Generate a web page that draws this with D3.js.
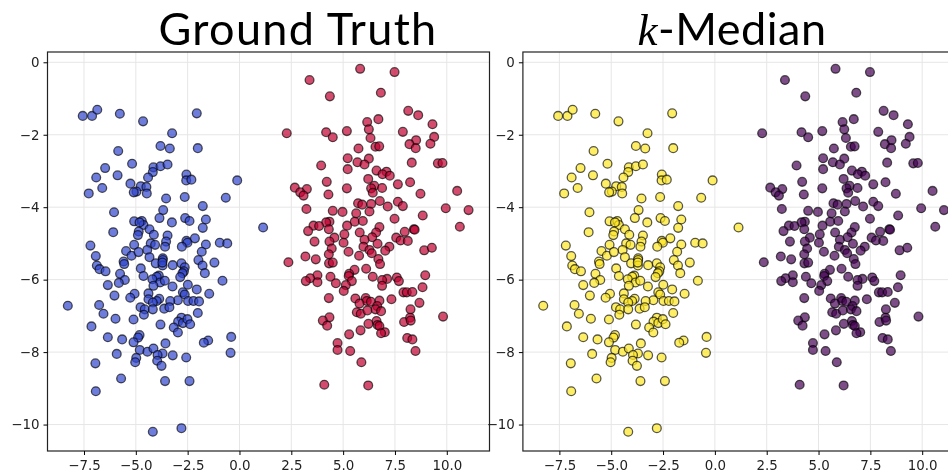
<!DOCTYPE html>
<html>
<head>
<meta charset="utf-8">
<script src="https://cdn.jsdelivr.net/npm/d3@7"></script>
<style>
  html, body { margin: 0; padding: 0; background: #fff; overflow: hidden; }
  svg { display: block; filter: blur(0.5px); }
  .tick text { font-family: "DejaVu Sans", sans-serif; font-size: 13.4px; fill: #222; }
  .titulo { font-family: "Lato", sans-serif; font-size: 45px; fill: #000; text-anchor: middle; letter-spacing: 1.3px; }
  .titulo_b { letter-spacing: 0.5px; }
  .k { font-family: "Liberation Serif", serif; font-style: italic; }
</style>
</head>
<body>
<svg id="svg-grafico" width="948" height="475"></svg>
<script>
// ticks de los ejes
const ticks_x = [-7.5, -5, -2.5, 0, 2.5, 5, 7.5, 10];
const ticks_y = [0, -2, -4, -6, -8, -10];

// grupo de la izquierda
const grupo_a = [
  [-7.56,-1.48],[-7.11,-1.48],[-6.86,-1.31],[-5.77,-1.42],[-4.65,-1.63],[-2.06,-1.41],[-3.25,-1.96],[-3.81,-2.31],
  [-3.36,-2.38],[-2.01,-2.37],[-5.85,-2.45],[-5.18,-2.80],[-6.48,-2.92],[-6.91,-3.18],[-5.88,-3.12],[-4.15,-2.90],
  [-3.81,-2.87],[-3.47,-2.82],[-4.18,-3.03],[-4.41,-3.18],[-5.26,-3.35],[-4.76,-3.42],[-4.49,-3.44],[-4.97,-3.57],
  [-5.10,-3.59],[-4.47,-3.62],[-6.62,-3.47],[-7.27,-3.62],[-2.56,-3.10],[-2.57,-3.26],[-2.32,-3.24],[-0.11,-3.26],
  [-3.54,-3.76],[-2.64,-3.72],[-0.66,-3.74],[-1.77,-3.97],[-6.05,-4.14],[-3.68,-4.08],[-3.86,-4.30],[-2.62,-4.30],
  [-2.41,-4.38],[-1.62,-4.34],[-3.26,-4.42],[-5.08,-4.39],[-4.71,-4.38],[-4.63,-4.49],[-4.82,-4.42],[-4.34,-4.61],
  [-1.77,-4.57],[-6.09,-4.69],[-4.13,-4.76],[-4.86,-4.67],[-4.90,-4.77],[-3.47,-4.78],[-2.15,-4.86],[-3.54,-4.95],
  [-2.56,-4.93],[-2.51,-4.98],[-2.78,-5.09],[-1.62,-5.03],[-0.95,-4.98],[-0.59,-5.00],[-3.59,-5.09],[-4.28,-5.00],
  [-4.07,-5.04],[-7.19,-5.06],[-5.08,-5.04],[-6.93,-5.35],[-1.82,-5.23],[-4.45,-5.18],[-5.47,-5.21],[-5.21,-5.34],
  [-4.87,-5.24],[-4.34,-5.38],[-3.70,-5.41],[-5.59,-5.50],[-5.56,-5.57],[-1.21,-5.53],[-6.88,-5.61],[-6.75,-5.71],
  [-6.46,-5.77],[-1.98,-5.46],[-1.78,-5.61],[-1.67,-5.82],[-4.04,-5.55],[-3.70,-5.46],[-3.71,-5.61],[-3.72,-5.53],
  [-3.22,-5.60],[-2.80,-5.55],[-2.64,-5.66],[-4.76,-5.69],[-4.63,-5.90],[-5.76,-5.84],[-5.53,-6.01],[-6.35,-6.15],
  [-5.82,-6.09],[-0.82,-6.03],[-2.68,-5.77],[-2.75,-5.82],[-2.86,-5.93],[-3.89,-5.89],[-3.99,-5.92],[-4.20,-5.99],
  [-3.83,-6.08],[-3.60,-6.03],[-4.15,-6.17],[-3.23,-6.19],[-2.49,-6.14],[-2.06,-6.27],[-6.03,-6.44],[-5.06,-6.39],
  [-5.27,-6.50],[-4.39,-6.38],[-4.39,-6.54],[-3.87,-6.53],[-3.99,-6.59],[-4.18,-6.63],[-2.73,-6.35],[-2.64,-6.41],
  [-1.46,-6.39],[-2.48,-6.59],[-2.22,-6.59],[-1.95,-6.60],[-2.97,-6.57],[-3.34,-6.59],[-4.77,-6.76],[-4.57,-6.82],
  [-4.61,-6.97],[-4.18,-6.82],[-3.63,-6.80],[-3.38,-6.76],[-2.01,-6.92],[-6.77,-6.70],[-8.28,-6.72],[-6.56,-6.94],
  [-5.98,-7.08],[-5.11,-7.10],[-7.14,-7.29],[-3.81,-7.24],[-2.80,-7.05],[-2.96,-7.16],[-2.73,-7.20],[-2.51,-7.09],
  [-2.38,-7.23],[-3.17,-7.32],[-2.97,-7.46],[-6.35,-7.59],[-5.66,-7.65],[-4.82,-7.53],[-4.89,-7.60],[-5.11,-7.73],
  [-3.57,-7.76],[-1.51,-7.68],[-1.72,-7.74],[-0.40,-7.58],[-4.81,-7.94],[-4.44,-7.99],[-4.15,-7.90],[-3.71,-8.04],
  [-3.95,-8.08],[-5.92,-8.05],[-3.22,-8.09],[-4.98,-8.16],[-5.03,-8.28],[-6.95,-8.31],[-3.97,-8.24],[-3.76,-8.38],
  [-2.57,-8.15],[-0.43,-8.02],[-5.71,-8.73],[-3.59,-8.80],[-2.41,-8.80],[-6.93,-9.08],[-4.18,-10.20],[-2.80,-10.10],
  [1.14,-4.56]
];

// grupo de la derecha
const grupo_b = [
  [5.82,-0.18],[7.48,-0.27],[3.38,-0.49],[4.36,-0.94],[6.82,-0.84],[8.14,-1.34],[8.62,-1.46],[6.70,-1.57],
  [6.16,-1.65],[6.24,-1.85],[9.31,-1.71],[2.28,-1.96],[4.18,-1.93],[4.50,-2.07],[5.18,-1.90],[7.88,-1.92],
  [6.32,-2.09],[9.39,-2.06],[8.52,-2.15],[8.20,-2.26],[8.50,-2.37],[9.21,-2.25],[6.56,-2.33],[6.74,-2.32],
  [5.74,-2.38],[5.22,-2.65],[6.24,-2.66],[5.69,-2.76],[6.03,-2.82],[3.94,-2.85],[8.31,-2.77],[9.57,-2.79],
  [9.79,-2.78],[5.22,-2.95],[6.61,-2.99],[7.09,-3.02],[6.90,-3.09],[7.25,-3.13],[6.21,-3.22],[4.21,-3.30],
  [8.23,-3.31],[7.64,-3.37],[6.50,-3.41],[6.88,-3.47],[6.35,-3.48],[2.67,-3.46],[3.25,-3.50],[5.18,-3.48],
  [2.93,-3.59],[3.09,-3.68],[4.29,-3.65],[6.43,-3.60],[8.73,-3.63],[10.50,-3.55],[6.77,-3.83],[7.64,-3.85],
  [7.88,-3.97],[5.72,-3.89],[5.92,-3.93],[6.35,-3.91],[7.15,-3.98],[9.95,-4.03],[11.05,-4.08],[3.23,-4.05],
  [4.50,-4.10],[4.97,-4.13],[6.27,-4.12],[5.63,-4.17],[8.84,-4.23],[7.48,-4.32],[5.56,-4.40],[5.95,-4.38],
  [5.19,-4.51],[4.34,-4.40],[4.18,-4.42],[3.57,-4.51],[3.84,-4.52],[3.31,-4.66],[4.31,-4.61],[10.63,-4.54],
  [6.75,-4.55],[6.59,-4.70],[8.41,-4.61],[8.45,-4.62],[7.97,-4.68],[5.80,-4.70],[5.06,-4.75],[4.58,-4.84],
  [3.62,-4.95],[4.34,-4.95],[5.02,-4.98],[6.40,-4.83],[6.03,-4.90],[7.56,-4.84],[7.77,-4.92],[8.12,-4.93],
  [6.66,-5.01],[7.23,-5.09],[5.98,-5.09],[6.27,-5.18],[7.03,-5.20],[8.91,-5.19],[9.28,-5.12],[4.45,-5.14],
  [5.26,-5.23],[5.77,-5.34],[4.31,-5.30],[3.18,-5.36],[3.68,-5.44],[6.70,-5.43],[6.38,-5.27],[2.36,-5.52],
  [4.32,-5.55],[4.50,-5.53],[6.78,-5.57],[5.55,-5.73],[6.11,-5.70],[8.96,-5.88],[5.29,-5.84],[5.27,-5.90],
  [6.43,-5.92],[4.39,-5.92],[3.76,-5.88],[3.41,-5.96],[3.20,-6.04],[3.76,-6.07],[5.42,-6.04],[7.12,-5.98],
  [6.88,-6.01],[7.59,-5.94],[7.69,-6.04],[4.65,-6.10],[5.13,-6.15],[6.88,-6.17],[5.03,-6.31],[8.83,-6.21],
  [7.91,-6.35],[8.07,-6.35],[8.34,-6.34],[4.31,-6.51],[5.59,-6.52],[6.09,-6.51],[6.14,-6.59],[5.79,-6.66],
  [6.34,-6.61],[6.75,-6.58],[7.33,-6.54],[6.64,-6.73],[6.56,-6.82],[8.68,-6.64],[8.25,-6.82],[5.66,-6.90],
  [5.85,-6.94],[6.17,-6.85],[6.83,-6.87],[4.34,-7.04],[4.02,-7.13],[4.23,-7.27],[9.82,-7.02],[7.94,-7.17],
  [8.23,-7.05],[8.26,-7.13],[6.61,-7.14],[6.22,-7.22],[6.66,-7.25],[6.75,-7.28],[7.01,-7.45],[6.83,-7.48],
  [5.84,-7.40],[5.29,-7.51],[8.09,-7.61],[8.34,-7.65],[4.73,-7.75],[4.73,-7.94],[5.34,-7.97],[8.49,-7.97],
  [5.88,-8.28],[4.09,-8.90],[6.21,-8.92]
];

// tamano de cada panel, el de la derecha se sale de la ventana
const ancho_panel = 442;
const alto_panel = 399;
const delta_y = 52;

const svg = d3.select("#svg-grafico");

// Funcion que crea un panel
// delta_x: donde va el borde izquierdo
// color_a, color_b: color de cada grupo
function crearPanel(delta_x, color_a, color_b) {
  const x = d3.scaleLinear().domain([-9.26, 12.06]).range([delta_x, delta_x + ancho_panel]);
  const y = d3.scaleLinear().domain([0.284, -10.73]).range([delta_y, delta_y + alto_panel]);
  const panel = svg.append("g");

  // grilla
  panel.selectAll(".gx").data(ticks_x).join("line")
    .attr("x1", d => x(d)).attr("x2", d => x(d))
    .attr("y1", delta_y).attr("y2", delta_y + alto_panel)
    .style("stroke", "#e6e6e6").style("stroke-width", 1);
  panel.selectAll(".gy").data(ticks_y).join("line")
    .attr("y1", d => y(d)).attr("y2", d => y(d))
    .attr("x1", delta_x).attr("x2", delta_x + ancho_panel)
    .style("stroke", "#e6e6e6").style("stroke-width", 1);

  // puntos
  const dibujar = (datos, color) => panel.append("g").selectAll("circle").data(datos).join("circle")
    .attr("cx", d => x(d[0]))
    .attr("cy", d => y(d[1]))
    .attr("r", 4.4)
    .style("fill", color)
    .style("fill-opacity", 0.7)
    .style("stroke", "#000")
    .style("stroke-opacity", 0.65)
    .style("stroke-width", 1.3);
  dibujar(grupo_a, color_a);
  dibujar(grupo_b, color_b);

  // marco
  panel.append("rect")
    .attr("x", delta_x).attr("y", delta_y)
    .attr("width", ancho_panel).attr("height", alto_panel)
    .style("fill", "none").style("stroke", "#222").style("stroke-width", 1.2);

  // ejes
  const eje_x = panel.append("g").attr("transform", `translate(0,${delta_y + alto_panel})`)
    .call(d3.axisBottom(x).tickValues(ticks_x).tickFormat(d3.format(".1f")).tickSize(4).tickPadding(5));
  const eje_y = panel.append("g").attr("transform", `translate(${delta_x},0)`)
    .call(d3.axisLeft(y).tickValues(ticks_y).tickFormat(d3.format("d")).tickSize(4).tickPadding(4));
  eje_x.select(".domain").remove();
  eje_y.select(".domain").remove();
}

crearPanel(47.5, "#3046cd", "#c00030");
crearPanel(522.9, "#fde725", "#440154");

// titulos
svg.append("text").attr("class", "titulo").attr("x", 298).attr("y", 45).text("Ground Truth");
const titulo_b = svg.append("text").attr("class", "titulo titulo_b").attr("x", 732).attr("y", 45);
titulo_b.append("tspan").attr("class", "k").text("k");
titulo_b.append("tspan").text("-Median");
</script>
</body>
</html>
